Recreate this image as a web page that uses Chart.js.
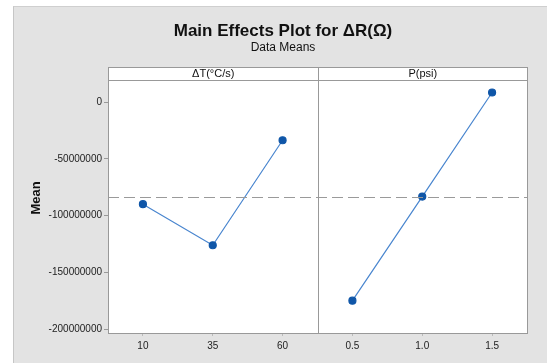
<!DOCTYPE html>
<html>
<head>
<meta charset="utf-8">
<script src="https://cdn.jsdelivr.net/npm/chart.js@4"></script>
<style>
  html, body { margin: 0; padding: 0; background: #fff; }
  #panel { position: absolute; left: 13px; top: 6px; width: 534px; height: 357px;
           background: #e3e3e3; border-left: 1px solid #c6c6c6; border-top: 1px solid #cfcfcf; box-sizing: border-box; }
  #wrap { position: absolute; left: 0; top: 0; width: 548px; height: 363px; }
</style>
</head>
<body>
<div id="panel"></div>
<div id="wrap"><canvas id="myChart" width="548" height="363"></canvas></div>
<script>
// factor levels (both panels share one category axis)
var labels = ['10', '35', '60', '0.5', '1.0', '1.5'];
var factorNames = ['\u0394T(\u00b0C/s)', 'P(psi)'];
// data means per level
var dtMeans = [-90000000, -126200000, -33700000];
var pMeans = [-175000000, -83300000, 8400000];
var yTicks = [0, -50000000, -100000000, -150000000, -200000000];

var grand = (dtMeans.concat(pMeans)).reduce((a, b) => a + b, 0) / 6;
var FONT = '"Liberation Sans", Arial, sans-serif';

var frame = {
  id: 'frame',
  beforeDraw(chart) {
    const {ctx, chartArea: a} = chart;
    ctx.save();
    ctx.fillStyle = '#fff';
    ctx.fillRect(a.left, a.top, a.right - a.left, a.bottom - a.top);
    ctx.restore();
  },
  afterDatasetsDraw(chart) {
    const {ctx, chartArea: a, scales: {x, y}} = chart;
    ctx.save();
    // reference (grand mean) line
    ctx.strokeStyle = '#9a9a9a';
    ctx.lineWidth = 1;
    ctx.setLineDash([11, 5]);
    let ym = Math.round(y.getPixelForValue(grand)) + 0.5;
    ctx.beginPath(); ctx.moveTo(a.left, ym); ctx.lineTo(a.right, ym); ctx.stroke();
    ctx.setLineDash([]);
    // header strip and panel borders
    let hTop = a.top - 13;
    let mid = Math.round((x.getPixelForValue(2) + x.getPixelForValue(3)) / 2) + 0.5;
    ctx.fillStyle = '#fff';
    ctx.fillRect(a.left, hTop, a.right - a.left, 13);
    ctx.strokeStyle = '#999';
    ctx.strokeRect(Math.round(a.left) + 0.5, hTop + 0.5, Math.round(a.right - a.left), a.bottom - hTop);
    ctx.beginPath();
    ctx.moveTo(a.left, a.top + 0.5); ctx.lineTo(a.right, a.top + 0.5);
    ctx.moveTo(mid, hTop); ctx.lineTo(mid, a.bottom);
    ctx.stroke();
    ctx.fillStyle = '#111';
    ctx.font = '11px ' + FONT;
    ctx.textAlign = 'center';
    ctx.textBaseline = 'middle';
    ctx.fillText(factorNames[0], (a.left + mid) / 2, hTop + 7);
    ctx.fillText(factorNames[1], (mid + a.right) / 2, hTop + 7);
    // titles
    ctx.font = 'bold 17px ' + FONT;
    ctx.fillText('Main Effects Plot for \u0394R(\u03a9)', 283, 31);
    ctx.font = '12px ' + FONT;
    ctx.fillText('Data Means', 283, 48);
    // y axis title
    ctx.translate(36, 198);
    ctx.rotate(-Math.PI / 2);
    ctx.font = 'bold 13px ' + FONT;
    ctx.fillText('Mean', 0, 0);
    ctx.restore();
  }
};

new Chart('myChart', {
  type: 'line',
  data: {
    labels: labels,
    datasets: [
      {
        data: dtMeans.concat([null, null, null]),
        borderColor: '#4a86cf', borderWidth: 1.2,
        pointBackgroundColor: '#0f56a8', pointBorderColor: '#0f56a8',
        pointRadius: 3.5, spanGaps: false
      },
      {
        data: [null, null, null].concat(pMeans),
        borderColor: '#4a86cf', borderWidth: 1.2,
        pointBackgroundColor: '#0f56a8', pointBorderColor: '#0f56a8',
        pointRadius: 3.5, spanGaps: false
      }
    ]
  },
  options: {
    responsive: false,
    animation: false,
    layout: { padding: { top: 80, right: 21, bottom: 0, left: 0 } },
    plugins: { legend: { display: false }, tooltip: { enabled: false } },
    scales: {
      x: {
        type: 'category',
        offset: true,
        border: { display: false },
        grid: { drawOnChartArea: false, drawTicks: true, tickLength: 3, color: '#bbb', offset: false },
        ticks: { color: '#222', font: { family: FONT, size: 10 }, padding: 4, maxRotation: 0 },
        afterFit: s => { s.height = 30; }
      },
      y: {
        min: -203500000,
        max: 19400000,
        border: { display: false },
        afterBuildTicks: s => { s.ticks = yTicks.map(v => ({value: v})); },
        grid: { drawOnChartArea: false, drawTicks: true, tickLength: 4, color: '#999' },
        ticks: { color: '#222', font: { family: FONT, size: 10 }, padding: 2,
                 callback: v => String(v) },
        afterFit: s => { s.width = 108; }
      }
    }
  },
  plugins: [frame]
});
</script>
</body>
</html>
